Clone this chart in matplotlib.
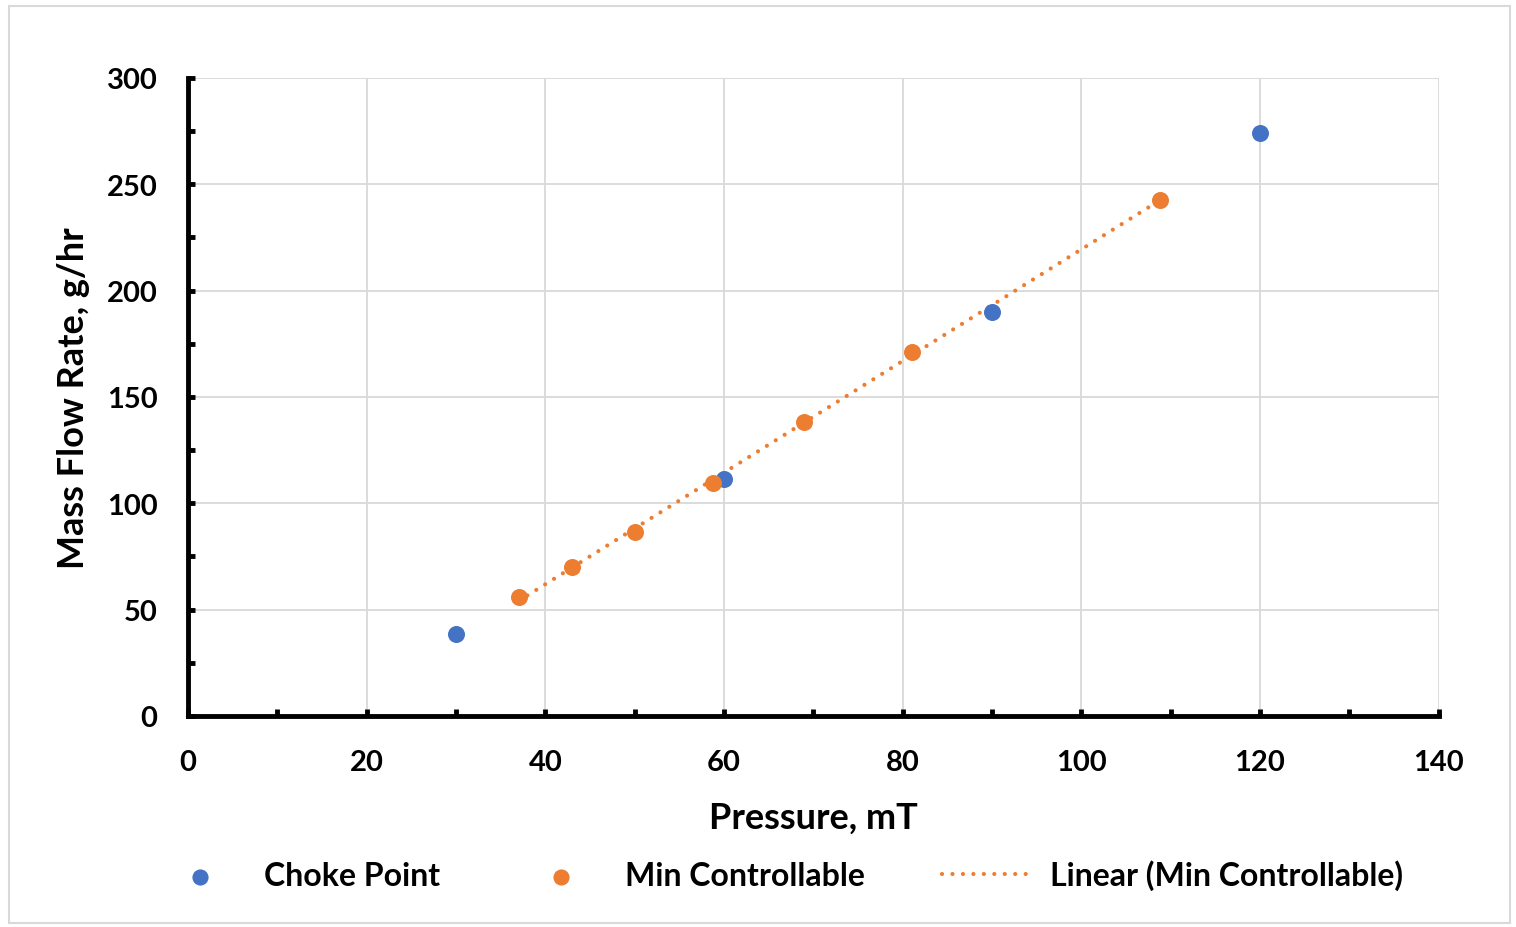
import matplotlib
matplotlib.use('Agg')
import matplotlib.pyplot as plt
import numpy as np
from matplotlib.patches import Rectangle
from matplotlib.ticker import MultipleLocator

BLUE = '#4472C4'
ORANGE = '#ED7D31'

# Choke point measurements
choke_pressure = [30, 60, 90, 120]
choke_flow = [38.5, 111.5, 190, 274]

# Minimum controllable flow measurements
min_pressure = [37, 43, 50, 58.8, 69, 81, 108.8]
min_flow = [56, 70, 86.5, 109.5, 138, 171, 242.5]


def main():
    plt.rcParams['font.family'] = ['Lato', 'DejaVu Sans']
    plt.rcParams['font.weight'] = 'bold'

    fig = plt.figure(figsize=(15.16, 9.28), dpi=100)
    fig.patches.append(Rectangle((0.006, 0.004), 0.99, 0.988, transform=fig.transFigure,
                                 fill=False, edgecolor='#D9D9D9', linewidth=1.5))
    ax = fig.add_axes([0.124, 0.2274, 0.825, 0.6875])

    # Linear trendline through the min controllable points
    slope, intercept = np.polyfit(min_pressure, min_flow, 1)
    xs = np.array([min(min_pressure), max(min_pressure)])
    ax.plot(xs, slope * xs + intercept, color=ORANGE, linewidth=3,
            linestyle=(0, (0.01, 2.5)), dash_capstyle='round', zorder=3,
            label='Linear (Min Controllable)')

    ax.scatter(choke_pressure, choke_flow, s=150, color=BLUE, zorder=4,
               label='Choke Point', linewidths=0)
    ax.scatter(min_pressure, min_flow, s=150, color=ORANGE, zorder=5,
               label='Min Controllable', linewidths=0)

    ax.set_xlim(0, 140)
    ax.set_ylim(0, 300)
    ax.xaxis.set_major_locator(MultipleLocator(20))
    ax.xaxis.set_minor_locator(MultipleLocator(10))
    ax.yaxis.set_major_locator(MultipleLocator(50))
    ax.yaxis.set_minor_locator(MultipleLocator(25))

    ax.grid(True, which='major', color='#D9D9D9', linewidth=1.3)
    ax.set_axisbelow(True)
    for side in ('top', 'right'):
        ax.spines[side].set_visible(False)
    for side in ('left', 'bottom'):
        ax.spines[side].set_linewidth(3.5)
        ax.spines[side].set_color('black')

    ax.tick_params(which='both', direction='in', width=3.5, length=5, color='black')
    ax.tick_params(axis='both', labelsize=21)
    ax.tick_params(axis='x', pad=24)
    ax.tick_params(axis='y', pad=22)

    ax.set_xlabel('Pressure, mT', fontsize=26, fontweight='bold', labelpad=18)
    ax.set_ylabel('Mass Flow Rate, g/hr', fontsize=26, fontweight='bold', labelpad=12)

    handles, labels = ax.get_legend_handles_labels()
    order = [1, 2, 0]
    fig.legend([handles[i] for i in order], [labels[i] for i in order],
               loc='center', bbox_to_anchor=(0.514, 0.056), ncol=3, frameon=False,
               fontsize=23, columnspacing=2.4, handletextpad=0.6, handlelength=2.8,
               markerscale=0.95)

    fig.savefig('out.png', dpi=100, facecolor='white')


if __name__ == "__main__":
    main()
